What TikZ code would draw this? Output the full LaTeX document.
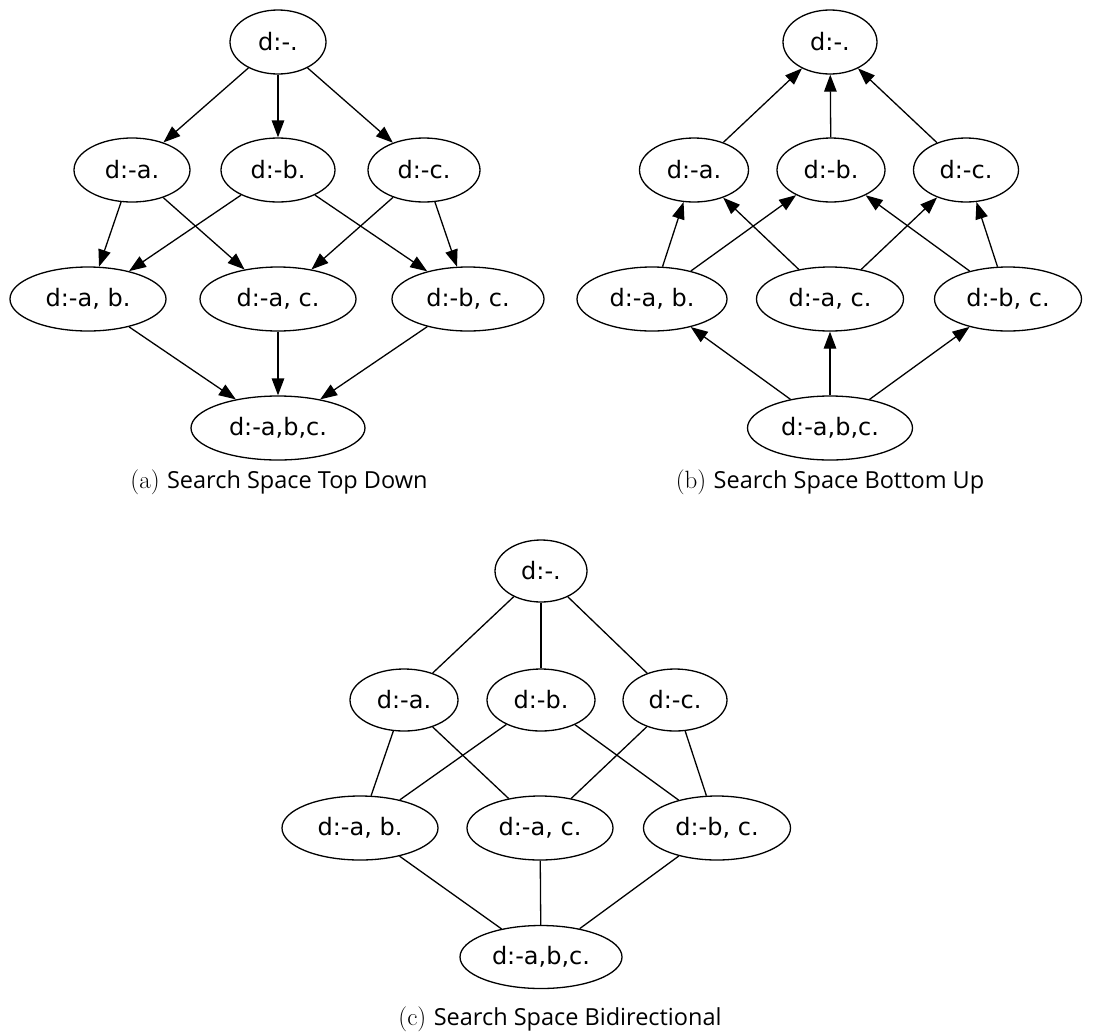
\documentclass[tikz,border=0pt]{standalone}
\usepackage{fontspec}
\setmainfont{DejaVu Sans}
\newfontfamily\capfont{Open Sans}
\newfontfamily\lmfont{Latin Modern Roman}
\usetikzlibrary{shapes.geometric,arrows.meta}
\begin{document}
\begin{tikzpicture}[x=1pt,y=-1pt,
  nd/.style={draw,ellipse,line width=1.3pt,inner sep=0pt,minimum height=64pt,font=\fontsize{24}{26}\selectfont},
  ed/.style={line width=1.3pt},
  ar/.style={ed,-{Triangle[length=17pt,width=12.5pt]}},
  captext/.style={font=\fontsize{23.5}{26}\selectfont}]
\useasboundingbox (0,0) rectangle (1114,1034);
% ---------- (a)
\node[nd,minimum width=96pt] (a0) at (278,42) {d:-.};
\node[nd,minimum width=116pt] (aA) at (132,170) {d:-a.};
\node[nd,minimum width=114pt] (aB) at (278,170) {d:-b.};
\node[nd,minimum width=112pt] (aC) at (424,170) {d:-c.};
\node[nd,minimum width=156pt] (aAB) at (88,299) {d:-a,\ b.};
\node[nd,minimum width=156pt] (aAC) at (278,299) {d:-a,\ c.};
\node[nd,minimum width=152pt] (aBC) at (468,299) {d:-b,\ c.};
\node[nd,minimum width=174pt] (aABC) at (278,428) {d:-a,b,c.};
\foreach \s/\t in {a0/aA,a0/aB,a0/aC,aA/aAB,aA/aAC,aB/aAB,aB/aBC,aC/aAC,aC/aBC,aAB/aABC,aAC/aABC,aBC/aABC}
  \draw[ar] (\s) -- (\t);
\node[captext] (capa) at (279,482) {{\lmfont\fontsize{25}{26}\selectfont(a)}\ {\capfont Search Space Top Down}};
% ---------- (b)
\node[nd,minimum width=94pt] (b0) at (830,42) {d:-.};
\node[nd,minimum width=109pt] (bA) at (694,170) {d:-a.};
\node[nd,minimum width=108pt] (bB) at (831,170) {d:-b.};
\node[nd,minimum width=105pt] (bC) at (966,170) {d:-c.};
\node[nd,minimum width=150pt] (bAB) at (652,299) {d:-a,\ b.};
\node[nd,minimum width=147pt] (bAC) at (830,299) {d:-a,\ c.};
\node[nd,minimum width=147pt] (bBC) at (1008,299) {d:-b,\ c.};
\node[nd,minimum width=165pt] (bABC) at (830,428) {d:-a,b,c.};
\foreach \s/\t in {b0/bA,b0/bB,b0/bC,bA/bAB,bA/bAC,bB/bAB,bB/bBC,bC/bAC,bC/bBC,bAB/bABC,bAC/bABC,bBC/bABC}
  \draw[ar] (\t) -- (\s);
\node[captext] (capb) at (830,482) {{\lmfont\fontsize{25}{26}\selectfont(b)}\ {\capfont Search Space Bottom Up}};
% ---------- (c)
\node[nd,minimum width=92pt,minimum height=62pt] (c0) at (541,571) {d:-.};
\node[nd,minimum width=108pt,minimum height=62pt] (cA) at (404,700) {d:-a.};
\node[nd,minimum width=108pt,minimum height=62pt] (cB) at (541,700) {d:-b.};
\node[nd,minimum width=104pt,minimum height=62pt] (cC) at (675,700) {d:-c.};
\node[nd,minimum width=156pt,minimum height=64pt] (cAB) at (360,828) {d:-a,\ b.};
\node[nd,minimum width=146pt,minimum height=64pt] (cAC) at (540,828) {d:-a,\ c.};
\node[nd,minimum width=147pt,minimum height=64pt] (cBC) at (717,828) {d:-b,\ c.};
\node[nd,minimum width=162pt,minimum height=63pt] (cABC) at (541,957) {d:-a,b,c.};
\foreach \s/\t in {c0/cA,c0/cB,c0/cC,cA/cAB,cA/cAC,cB/cAB,cB/cBC,cC/cAC,cC/cBC,cAB/cABC,cAC/cABC,cBC/cABC}
  \draw[ed] (\s) -- (\t);
\node[captext] (capc) at (560,1019) {{\lmfont\fontsize{25}{26}\selectfont(c)}\ {\capfont Search Space Bidirectional}};
\end{tikzpicture}
\end{document}
